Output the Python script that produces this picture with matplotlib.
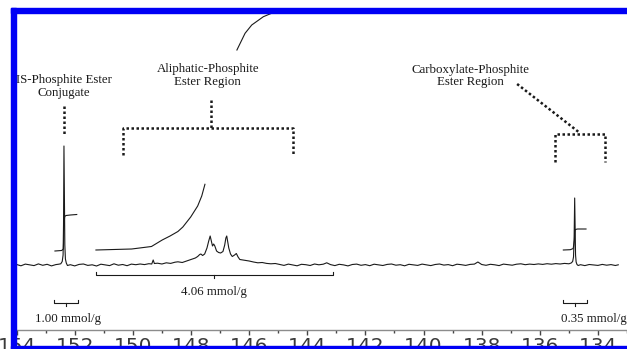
import numpy as np
import matplotlib
matplotlib.use('Agg')
import matplotlib.pyplot as plt
from matplotlib.patches import Rectangle

# ---------------- data (ppm, intensity) ----------------
base_left_ppm = [154.0, 153.85, 153.7, 153.55, 153.4, 153.25, 153.1, 152.95, 152.8, 152.65, 152.55]
base_left_val = [0.5, -0.8, 0.9, 0.2, -0.6, 1.1, -0.3, 0.7, -0.9, 0.4, 0.8]

is_peak_ppm = [152.48, 152.43, 152.40, 152.385, 152.37, 152.355, 152.34, 152.32, 152.29, 152.25]
is_peak_val = [1.2, 3.5, 10, 40, 119, 70, 20, 6, 2, -0.5]

base_mid_ppm = [152.15, 152.0, 151.85, 151.7, 151.55, 151.4, 151.25, 151.1, 150.95, 150.8,
                150.65, 150.5, 150.35, 150.2, 150.05, 149.9, 149.75, 149.6, 149.45, 149.35,
                149.30, 149.26]
base_mid_val = [0.3, -0.9, 0.6, 1.0, -0.4, 0.2, -1.0, 0.8, 0.1, -0.6,
                1.2, -0.2, 0.5, -0.7, 0.9, 0.3, 1.0, 0.4, 1.3, 1.0,
                5.0, 1.5]

aliph_ppm = [149.15, 149.0, 148.85, 148.7, 148.55, 148.45, 148.3, 148.15, 148.0, 147.85,
             147.77, 147.70, 147.66, 147.60, 147.53, 147.45, 147.39, 147.34, 147.30, 147.26,
             147.22, 147.18, 147.12, 147.05, 146.98, 146.90, 146.84, 146.80, 146.77, 146.74,
             146.70, 146.64, 146.58, 146.50, 146.44, 146.38, 146.32, 146.22, 146.10, 146.0,
             145.85, 145.7, 145.55, 145.4, 145.25, 145.1]
aliph_val = [1.8, 1.0, 2.2, 1.6, 2.8, 3.2, 2.5, 4.0, 5.5, 7.0,
             8.5, 10.5, 11.0, 9.5, 11.0, 17.0, 24.0, 29.0, 24.0, 19.0,
             21.0, 19.0, 14.0, 12.5, 12.0, 13.5, 20.0, 27.0, 29.0, 24.0,
             17.0, 11.0, 8.5, 10.0, 11.5, 8.0, 5.5, 5.0, 4.3, 4.0,
             3.0, 2.2, 2.5, 1.6, 1.2, 1.5]

base_right_ppm = [144.95, 144.8, 144.65, 144.5, 144.35, 144.2, 144.05, 143.9, 143.75, 143.6,
                  143.45, 143.33, 143.2, 143.05, 142.9, 142.75, 142.6, 142.45, 142.3, 142.15,
                  142.0, 141.85, 141.7, 141.55, 141.4, 141.25, 141.1, 140.95, 140.8, 140.65,
                  140.5, 140.35, 140.2, 140.05, 139.9, 139.75, 139.6, 139.45, 139.3, 139.15,
                  139.0, 138.85, 138.7, 138.55, 138.4, 138.25, 138.13, 138.0, 137.85, 137.7,
                  137.55, 137.4, 137.25, 137.1, 136.95, 136.8, 136.65, 136.5, 136.35, 136.2,
                  136.05, 135.9, 135.75, 135.6, 135.45, 135.3, 135.15, 135.0]
base_right_val = [0.6, -0.4, 0.9, 0.1, -0.8, 0.7, 0.3, -0.5, 1.0, 0.2,
                  0.8, 2.2, 0.4, -0.6, 0.7, 0.1, -0.9, 0.5, 0.9, -0.3,
                  0.4, -0.7, 0.8, 0.2, -0.5, 0.6, 1.0, -0.2, 0.3, -0.8,
                  0.7, 0.1, -0.4, 0.9, 0.2, -0.6, 0.5, 1.0, -0.1, 0.4,
                  -0.7, 0.8, 0.3, -0.4, 0.6, 0.9, 3.0, 0.5, -0.3, 0.7,
                  0.2, -0.6, 0.9, 0.4, -0.2, 0.8, 1.2, 0.3, 0.9, 0.5,
                  1.1, 0.6, 1.3, 0.8, 1.4, 1.0, 1.6, 1.2]

carb_peak_ppm = [134.92, 134.87, 134.84, 134.82, 134.80, 134.785, 134.77, 134.75, 134.72, 134.68]
carb_peak_val = [2.0, 3.5, 8.0, 25.0, 67.0, 35.0, 10.0, 3.0, 0.5, -0.5]

base_end_ppm = [134.6, 134.45, 134.3, 134.15, 134.0, 133.85, 133.7, 133.55, 133.4, 133.3]
base_end_val = [0.3, -0.6, 0.5, 0.1, -0.4, 0.6, -0.2, 0.4, -0.5, 0.2]

# integral traces (ppm, height)
is_int_ppm = [152.68, 152.45, 152.39, 152.375, 152.36, 152.345, 152.30, 152.15, 151.93]
is_int_val = [14, 14.5, 16, 30, 44, 48.5, 49.5, 50, 50.5]

carb_int_ppm = [135.19, 134.95, 134.85, 134.81, 134.795, 134.78, 134.70, 134.41]
carb_int_val = [15, 15.3, 16.5, 25, 33, 35.5, 36, 36]

aliph_int_lo_ppm = [151.27, 150.04, 149.36, 148.99, 148.72, 148.45, 148.28, 148.01, 147.77, 147.63, 147.52]
aliph_int_lo_val = [15, 16, 18.5, 25, 29, 33.5, 38, 48, 59, 69, 80.7]
aliph_int_hi_ppm = [146.42, 146.14, 145.91, 145.51, 145.18, 144.9]
aliph_int_hi_val = [215, 231.7, 240, 248.3, 252.3, 257]

# integral ranges and values
int_labels = ['1.00 mmol/g', '4.06 mmol/g', '0.35 mmol/g']
int_start = [152.71, 151.27, 135.20]
int_end = [151.90, 143.13, 134.39]

# region labels
region_labels = ['IS-Phosphite Ester\nConjugate', 'Aliphatic-Phosphite\nEster Region',
                 'Carboxylate-Phosphite\nEster Region']
region_ppm = [152.36, 147.42, 138.38]

xticks_major = [154, 152, 150, 148, 146, 144, 142, 140, 138, 136, 134]

# ---------------- figure ----------------
W, H = 627, 349
fig = plt.figure(figsize=(W / 100, H / 100), dpi=100)
ax = fig.add_axes([16 / W, (H - 330) / H, (W - 16) / W, (330 - 13) / H])
ax.set_xlim(154.02, 133.32)
ax.set_ylim(-65, 252)

spec_ppm = np.array(base_left_ppm + is_peak_ppm + base_mid_ppm + aliph_ppm +
                    base_right_ppm + carb_peak_ppm + base_end_ppm)
spec_val = np.array(base_left_val + is_peak_val + base_mid_val + aliph_val +
                    base_right_val + carb_peak_val + base_end_val)
order = np.argsort(-spec_ppm)
ink = '#1a1a1a'
ax.plot(spec_ppm[order], spec_val[order], color=ink, lw=0.8, zorder=3)

for p, v in [(is_int_ppm, is_int_val), (carb_int_ppm, carb_int_val),
             (aliph_int_lo_ppm, aliph_int_lo_val), (aliph_int_hi_ppm, aliph_int_hi_val)]:
    ax.plot(p, v, color=ink, lw=0.8, zorder=3)

# integral brackets
serif = dict(family='Liberation Serif', size=9.3, color=ink)
bracket_y = [-38, -10, -38]
label_dy = [-16, -16.5, -16]
label_dx = [-0.06, 0.0, -0.05]
for lab, s, e, by, dy, dx in zip(int_labels, int_start, int_end, bracket_y, label_dy, label_dx):
    ax.plot([s, s, e, e], [by + 3, by, by, by + 3], color=ink, lw=0.8)
    c = (s + e) / 2
    ax.plot([c, c], [by, by - 3], color=ink, lw=0.8)
    ha = 'center'
    xpos = c + dx
    if lab.startswith('0.35'):
        ha = 'left'
        xpos = 135.27
    ax.text(xpos, by + dy, lab, ha=ha, va='center', **serif)

# region labels
region_y = [178.5, 189.5, 189.0]
for lab, x, y in zip(region_labels, region_ppm, region_y):
    ax.text(x, y, lab, ha='center', va='center', linespacing=1.05, **serif)

dot = dict(color=ink, lw=1.8, linestyle=(0, (1, 1)), solid_capstyle='butt')
# IS pointer
ax.plot([152.36, 152.36], [159, 131], **dot)
# aliphatic pointer + bracket
ax.plot([147.32, 147.32], [165, 137], **dot)
ax.plot([150.34, 150.34, 144.48, 144.48], [110, 137, 137, 110], **dot)
# carboxylate pointer + bracket
ax.plot([136.78, 134.62], [181, 132], **dot)
ax.plot([135.46, 135.46, 133.76, 133.76], [103, 131.5, 131.5, 103], **dot)

# axes styling
for sp in ['left', 'right', 'top']:
    ax.spines[sp].set_visible(False)
ax.spines['bottom'].set_color('#8c8c8c')
ax.spines['bottom'].set_linewidth(1.0)
ax.set_yticks([])
ax.set_xticks(xticks_major)
ax.set_xticklabels([str(t) for t in xticks_major])
ax.set_xticks(np.arange(133, 155, 2), minor=True)
ax.tick_params(axis='x', which='major', direction='out', length=3.8, width=1.0,
               color='#444444', pad=1.5, labelsize=14.5, labelcolor='#3a3a3a')
ax.tick_params(axis='x', which='minor', direction='out', length=2.2, width=1.0,
               color='#444444')
ax.patch.set_alpha(0)

# blue frame
blue = '#0000f5'
fig.add_artist(Rectangle((11 / W, (H - 13) / H), (W - 11) / W, 5 / H,
                         transform=fig.transFigure, color=blue, zorder=10))
fig.add_artist(Rectangle((11 / W, 0), 5 / W, (H - 8) / H,
                         transform=fig.transFigure, color=blue, zorder=10))
fig.add_artist(Rectangle((11 / W, 0), (W - 11) / W, 3 / H,
                         transform=fig.transFigure, color=blue, zorder=10))

fig.savefig('out.png', dpi=100)
